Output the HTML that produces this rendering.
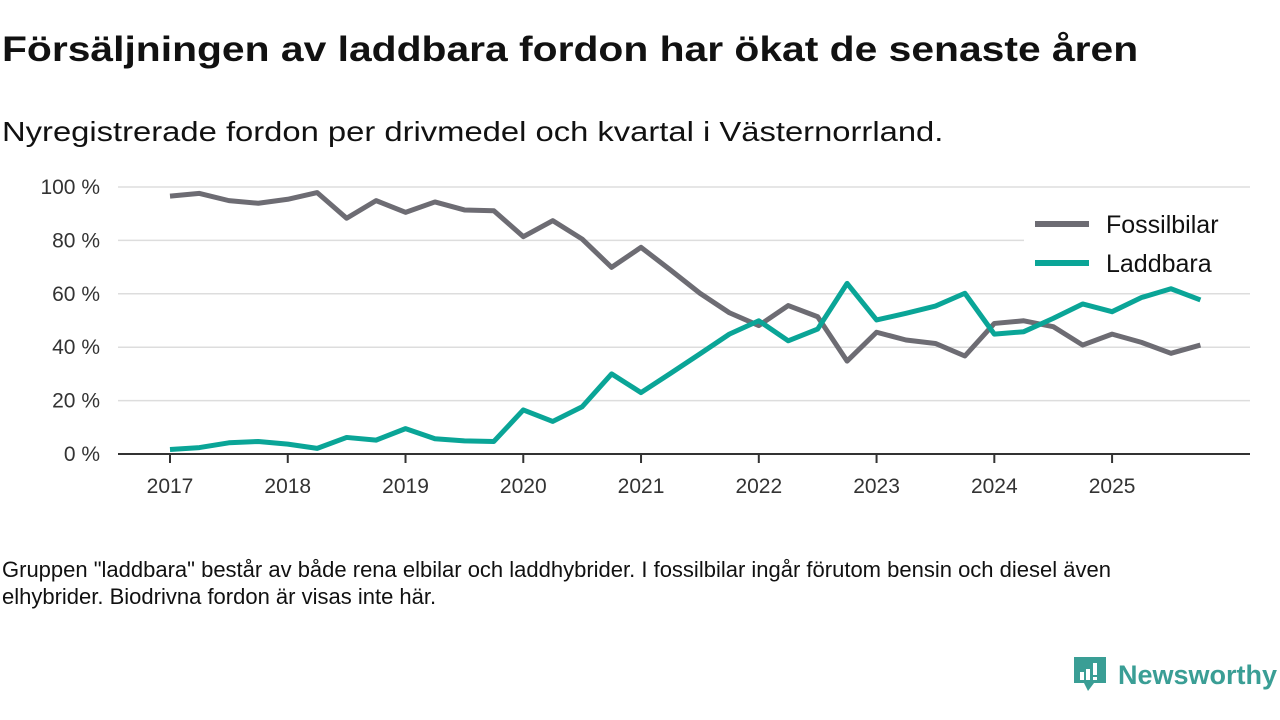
<!DOCTYPE html>
<html><head><meta charset="utf-8"><style>
body{margin:0;width:1280px;height:720px;background:#fff;font-family:"Liberation Sans",sans-serif;color:#111;overflow:hidden;position:relative}
.t{position:absolute;left:2px;top:30px;font-size:35px;font-weight:bold;white-space:nowrap;transform:scaleX(1.166);transform-origin:left top}
.s{position:absolute;left:2px;top:116px;font-size:28px;white-space:nowrap;transform:scaleX(1.17);transform-origin:left top}
.f{position:absolute;left:2px;top:556px;font-size:22px;line-height:27px;width:1200px}
.logo{position:absolute;left:1072px;top:655px;display:flex;align-items:center;color:#3a9e95;font-size:27px;font-weight:bold}
</style></head><body>
<div class="t">Försäljningen av laddbara fordon har ökat de senaste åren</div>
<div class="s">Nyregistrerade fordon per drivmedel och kvartal i Västernorrland.</div>
<svg id="c" width="1280" height="720" style="position:absolute;left:0;top:0"></svg>
<div class="f">Gruppen "laddbara" består av både rena elbilar och laddhybrider. I fossilbilar ingår förutom bensin och diesel även elhybrider. Biodrivna fordon är visas inte här.</div>
<div class="logo"><svg width="36" height="40" viewBox="0 0 36 40"><path d="M2 2h32v26H22l-6 8-4-8H2z" fill="#3a9e95"/><rect x="8" y="17" width="4" height="8" fill="#fff"/><rect x="14" y="14" width="4" height="11" fill="#fff"/><rect x="21" y="8" width="4" height="12" fill="#fff"/><rect x="21" y="22" width="4" height="3" fill="#fff"/></svg><span style="margin-left:10px">Newsworthy</span></div>
<script>
const years=["2017","2018","2019","2020","2021","2022","2023","2024","2025"];
const yTicks=[0,20,40,60,80,100];
const fossil=[96.6,97.6,94.9,93.9,95.4,97.9,88.3,94.9,90.5,94.4,91.4,91.1,81.4,87.4,80.5,69.9,77.4,68.9,60.2,52.9,48.1,55.6,51.4,34.8,45.6,42.7,41.4,36.7,48.9,49.9,47.7,40.8,44.9,41.8,37.7,40.8];
const laddbara=[1.7,2.4,4.2,4.7,3.7,2.1,6.2,5.2,9.5,5.7,4.9,4.7,16.5,12.2,17.7,30.0,23.0,30.2,37.5,44.9,49.9,42.4,46.8,63.9,50.2,52.7,55.4,60.2,44.9,45.8,50.8,56.2,53.3,58.6,61.9,57.7];
const svg=document.getElementById('c');const NS='http://www.w3.org/2000/svg';
const x=i=>170+i*29.44, y=v=>454-v*2.67;
function el(t,a){const e=document.createElementNS(NS,t);for(const k in a)e.setAttribute(k,a[k]);svg.appendChild(e);return e;}
yTicks.forEach(v=>{
 const g=el('line',{x1:118,x2:1250,y1:y(v),y2:y(v),stroke:'#ddd','stroke-width':1.5});
 
 
 const t=el('text',{x:100,y:y(v)+7,'text-anchor':'end','font-size':21,fill:'#333'});t.textContent=v+' %';
 
 
});
const ax=el('line',{x1:118,x2:1250,y1:454,y2:454,stroke:'#333','stroke-width':2});


years.forEach((yr,k)=>{
 const xx=x(k*4);
 const tk=el('line',{x1:xx,x2:xx,y1:454,y2:463,stroke:'#333','stroke-width':2});
 
 
 const t=el('text',{x:xx,y:493,'text-anchor':'middle','font-size':21,fill:'#333'});t.textContent=yr;
 
 
});
function line(d,c,n){const p=el('polyline',{points:d.map((v,i)=>x(i)+','+y(v)).join(' '),fill:'none',stroke:c,'stroke-width':5,'stroke-linejoin':'round'});
 
 }
line(fossil,'#6d6c73','fossilbilar-line');
line(laddbara,'#0aa597','laddbara-line');
const bg=el('rect',{x:1024,y:204,width:226,height:82,fill:'#fff'});


[['Fossilbilar','#6d6c73',224],['Laddbara','#0aa597',263]].forEach(([n,c,yy])=>{
 const l=el('line',{x1:1035,x2:1089,y1:yy,y2:yy,stroke:c,'stroke-width':6});
 
 
 const t=el('text',{x:1106,y:yy+9,'font-size':25,fill:'#111'});t.textContent=n;
 
 
});
</script>
</body></html>
